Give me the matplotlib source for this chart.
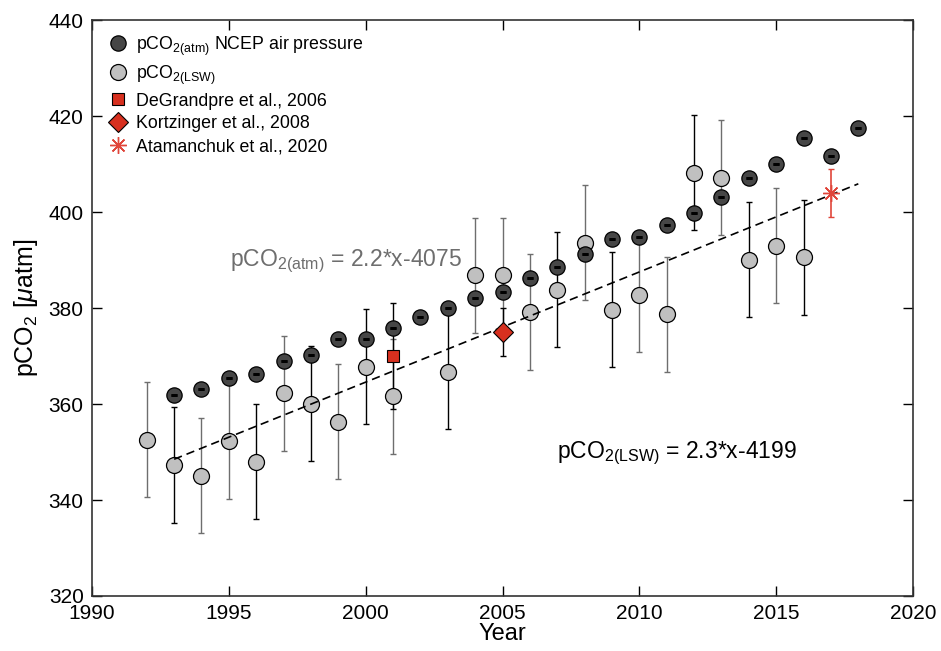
import numpy as np
import matplotlib
matplotlib.use('Agg')
import matplotlib.pyplot as plt

plt.rcParams['font.family'] = ['Liberation Sans', 'DejaVu Sans']
plt.rcParams['mathtext.fontset'] = 'custom'
plt.rcParams['mathtext.rm'] = 'Liberation Sans'
plt.rcParams['mathtext.it'] = 'Liberation Sans:italic'

# atmospheric pCO2 (NCEP air pressure)
atm_year = np.arange(1993, 2019)
atm_pco2 = [361.9, 363.1, 365.4, 366.3, 369.0, 370.3, 373.6, 373.5, 375.8, 378.1,
            380.0, 382.2, 383.3, 386.2, 388.5, 391.2, 394.3, 394.9, 397.3, 399.9,
            403.2, 407.2, 410.0, 415.5, 411.7, 417.6]
atm_err = 0.0

# Labrador Sea Water pCO2
lsw_year = [1992, 1993, 1994, 1995, 1996, 1997, 1998, 1999, 2000, 2001, 2003, 2004,
            2005, 2006, 2007, 2008, 2009, 2010, 2011, 2012, 2013, 2014, 2015, 2016]
lsw_pco2 = [352.6, 347.3, 345.1, 352.2, 348.0, 362.2, 360.1, 356.3, 367.8, 361.6, 366.7, 386.8,
            386.8, 379.2, 383.8, 393.6, 379.7, 382.8, 378.7, 408.2, 407.2, 390.1, 393.0, 390.6]
lsw_err = 12.0
lsw_errcol = ['g', 'k', 'g', 'g', 'k', 'g', 'k', 'g', 'k', 'g', 'k', 'g',
              'g', 'g', 'k', 'g', 'k', 'g', 'g', 'k', 'g', 'k', 'g', 'k']

# other studies
degr_year, degr_pco2, degr_err = [2001], [370.0], [11.0]
kort_year, kort_pco2, kort_err = [2005], [375.0], [5.0]
atam_year, atam_pco2, atam_err = [2017], [404.0], [5.0]

# linear fit of LSW series (drawn line)
fit_year = [1993, 2018]
fit_pco2 = [348.5, 405.9]

dark = '#464646'
light = '#c0c0c0'
red = '#d7301f'
gray_bar = '#6e6e6e'

fig = plt.figure(figsize=(9.41, 6.51), dpi=100)
ax = fig.add_axes([0.0978, 0.0845, 0.8725, 0.8845])

# error bars of LSW series
for x, y, c in zip(lsw_year, lsw_pco2, lsw_errcol):
    col = 'k' if c == 'k' else gray_bar
    ax.errorbar(x, y, yerr=lsw_err, fmt='none', ecolor=col, elinewidth=1.0,
                capsize=2.5, capthick=1.0, zorder=2)
ax.errorbar(degr_year, degr_pco2, yerr=degr_err, fmt='none', ecolor='k',
            elinewidth=1.0, capsize=2.5, zorder=2)
ax.errorbar(kort_year, kort_pco2, yerr=kort_err, fmt='none', ecolor='k',
            elinewidth=1.0, capsize=2.5, zorder=2)

ax.plot(lsw_year, lsw_pco2, 'o', ms=11.5, mfc=light, mec='k', mew=0.9, zorder=3,
        label=r'pCO$_{\mathregular{2(LSW)}}$')
ax.plot(fit_year, fit_pco2, '--', color='k', lw=1.2, dashes=(5, 3), zorder=4)
ax.plot(atm_year, atm_pco2, 'o', ms=11, mfc=dark, mec='k', mew=0.9, zorder=5,
        label=r'pCO$_{\mathregular{2(atm)}}$ NCEP air pressure')
ax.errorbar(atm_year, atm_pco2, yerr=atm_err, fmt='none', ecolor='k',
            elinewidth=0.0, capsize=2.5, capthick=2.0, zorder=6)

ax.plot(degr_year, degr_pco2, 's', ms=9, mfc=red, mec='k', mew=0.8, zorder=6,
        label='DeGrandpre et al., 2006')
ax.plot(kort_year, kort_pco2, 'D', ms=10, mfc=red, mec='k', mew=0.8, zorder=6,
        label='Kortzinger et al., 2008')
ax.errorbar(atam_year, atam_pco2, yerr=atam_err, fmt='none', ecolor='#e0453a',
            elinewidth=1.2, capsize=2.5, zorder=6)
ax.plot(atam_year, atam_pco2, marker=(8, 2, 0), ls='none', ms=12, color='#e0453a',
        mew=1.0, zorder=7, label='Atamanchuk et al., 2020')

handles, labels = ax.get_legend_handles_labels()
order = [1, 0, 2, 3, 4]
ax.legend([handles[i] for i in order], [labels[i] for i in order], loc='upper left',
          frameon=False, fontsize=12.8, handletextpad=0.35, borderaxespad=0.35,
          labelspacing=0.33, handlelength=1.3, borderpad=0.45)

ax.text(1995.04, 388.7, r'pCO$_{\mathregular{2(atm)}}$ = 2.2*x-4075', color='#6e6e6e',
        fontsize=16.5)
ax.text(2007.0, 348.7, r'pCO$_{\mathregular{2(LSW)}}$ = 2.3*x-4199', color='k',
        fontsize=16.5)

ax.set_xlim(1990, 2020)
ax.set_ylim(320, 440)
ax.set_xticks(np.arange(1990, 2021, 5))
ax.set_yticks(np.arange(320, 441, 20))
ax.tick_params(direction='in', top=True, right=True, length=7, width=1.0,
               labelsize=15)
ax.tick_params(axis='x', pad=6)
ax.tick_params(axis='y', pad=6)
for s in ax.spines.values():
    s.set_linewidth(1.2)
    s.set_color('#333333')
ax.set_xlabel('Year', fontsize=17, labelpad=0)
ax.set_ylabel(r'pCO$_{\mathregular{2}}$ [$\mu$atm]', fontsize=18, labelpad=6)

fig.savefig('out.png', dpi=100)
